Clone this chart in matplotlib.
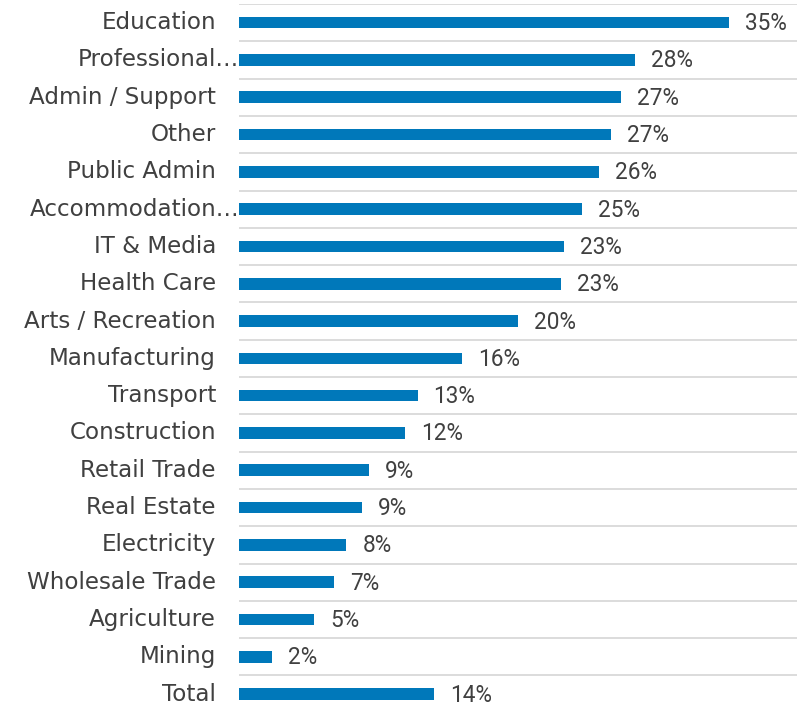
import numpy as np
import matplotlib.pyplot as plt

categories = ['Education', 'Professional…', 'Admin / Support', 'Other', 'Public Admin',
              'Accommodation…', 'IT & Media', 'Health Care', 'Arts / Recreation',
              'Manufacturing', 'Transport', 'Construction', 'Retail Trade', 'Real Estate',
              'Electricity', 'Wholesale Trade', 'Agriculture', 'Mining', 'Total']
values = [35.1, 28.4, 27.4, 26.7, 25.8, 24.6, 23.3, 23.1, 20.0, 16.0, 12.8, 11.9,
          9.3, 8.8, 7.7, 6.8, 5.4, 2.4, 14.0]
truncated = ['Professional…', 'Accommodation…']

W, H = 803, 710
fig = plt.figure(figsize=(W/100, H/100), dpi=100)
ax = fig.add_axes([239/W, (H-712.7)/H, 558/W, 708.7/H])

y = np.arange(len(categories))
ax.barh(y, values, height=0.31, color='#0078BA', zorder=3)

ax.set_xlim(0, 40)
ax.set_ylim(len(categories)-0.5, -0.5)
ax.set_yticks(np.arange(len(categories)+1) - 0.5, minor=True)
ax.set_yticks([])
ax.set_xticks([])
ax.grid(which='minor', axis='y', color='#D9D9D9', lw=1.3, zorder=0)
ax.tick_params(which='both', length=0)
for s in ax.spines.values():
    s.set_visible(False)

for yi, (cat, v) in enumerate(zip(categories, values)):
    pad = 0 if cat in truncated else -23
    ax.annotate(cat, (0, yi), xytext=(pad, 0), textcoords='offset pixels',
                ha='right', va='center', fontsize=16.6, color='#404040',
                family=['DejaVu Sans'])
    ax.annotate(f'{round(v):.0f}%', (v, yi), xytext=(16, -1), textcoords='offset pixels',
                ha='left', va='center', fontsize=16.3, color='#404040',
                family=['Roboto', 'DejaVu Sans'])

fig.savefig('out.png', dpi=100)
